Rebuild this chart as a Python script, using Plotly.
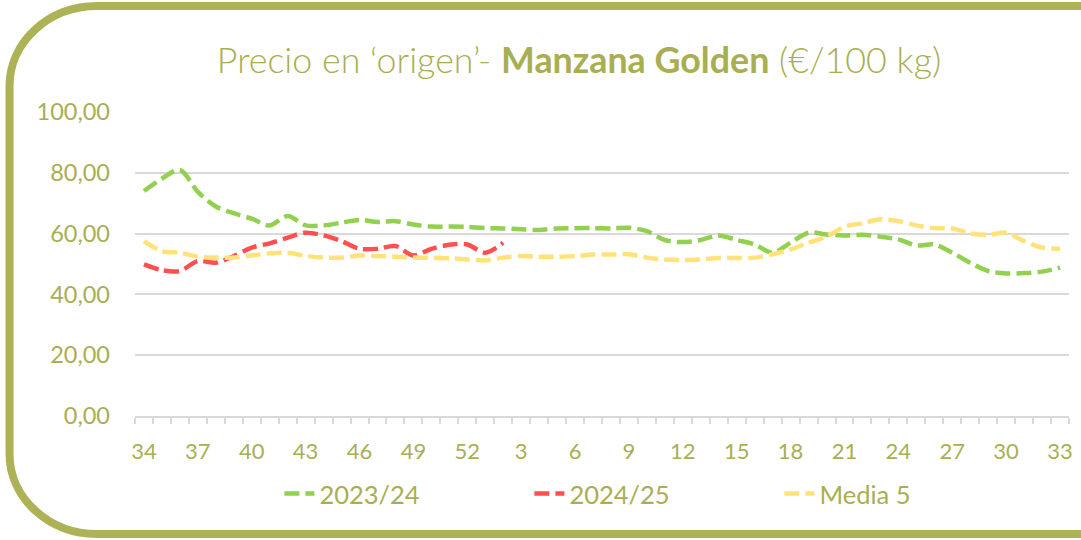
import plotly.graph_objects as go

# ---------------- data ----------------
weeks = [str(w) for w in list(range(34, 53)) + list(range(1, 34))]

s2023_24 = [74.0, 78.1, 80.9, 73.7, 68.9, 66.7, 64.9, 62.7, 65.8, 62.7,
            62.7, 63.6, 64.5, 63.8, 64.1, 63.0, 62.3, 62.3, 62.2, 61.8,
            61.7, 61.4, 61.2, 61.7, 61.8, 61.8, 61.7, 61.9, 60.8, 57.9,
            57.2, 57.9, 59.4, 57.9, 56.4, 53.7, 57.0, 60.3, 59.7, 59.4,
            59.6, 59.0, 58.1, 56.1, 56.4, 53.7, 50.4, 47.7, 46.9, 47.0,
            47.5, 48.8]

s2024_25 = [49.9, 48.0, 47.7, 51.0, 50.4, 52.6, 55.4, 56.8, 58.7, 60.3,
            59.4, 57.5, 55.0, 55.0, 55.9, 52.8, 55.0, 56.3, 56.4, 53.7,
            57.0]

media5 = [57.5, 54.2, 53.7, 52.4, 52.1, 52.1, 52.8, 53.5, 53.7, 52.7,
          52.1, 52.1, 52.8, 52.6, 52.4, 52.1, 52.0, 51.9, 51.5, 51.2,
          52.1, 52.6, 52.4, 52.4, 52.6, 53.1, 53.1, 53.2, 52.1, 51.5,
          51.3, 51.5, 52.0, 52.0, 52.1, 53.2, 54.8, 57.0, 59.0, 62.3,
          63.4, 64.7, 64.1, 62.7, 61.8, 61.7, 60.1, 59.6, 60.3, 57.5,
          55.4, 55.0]

series_names = ["2023/24", "2024/25", "Media 5"]
y_ticks = [0, 20, 40, 60, 80, 100]
title_text = "Precio en ‘origen’- <b>Manzana Golden</b> (€/100 kg)"

# ---------------- style ----------------
OLIVE = "#A9AE52"
BORDER = "#ADB256"
GRID = "#D9D9D9"
COLORS = ["#92D050", "#FF5050", "#FFE27A"]
FONT = "Lato"

W, H = 1081, 540
L, R, T, B = 135, 8, 112, 124
PW, PH = W - L - R, H - T - B

def px(x):
    return (x - L) / PW

def py(y):
    return (H - B - y) / PH

idx = list(range(len(weeks)))

fig = go.Figure()
for name, vals, col in zip(series_names, [s2023_24, s2024_25, media5], COLORS):
    fig.add_trace(go.Scatter(
        x=idx[:len(vals)], y=vals, name=name, mode="lines",
        line=dict(color=col, width=4.5, dash="15px,6px", shape="spline", smoothing=0.9),
        hoverinfo="x+y",
    ))

# rounded border (left side rounded, right side open)
k = 0.5523
lx, ty, by, rx_, ry_ = 9, 6, 534, 88, 80
rxp = 1100
pts = [
    f"M {px(rxp)},{py(ty)}",
    f"L {px(lx + rx_)},{py(ty)}",
    f"C {px(lx + rx_ * (1 - k))},{py(ty)} {px(lx)},{py(ty + ry_ * (1 - k))} {px(lx)},{py(ty + ry_)}",
    f"L {px(lx)},{py(by - ry_)}",
    f"C {px(lx)},{py(by - ry_ * (1 - k))} {px(lx + rx_ * (1 - k))},{py(by)} {px(lx + rx_)},{py(by)}",
    f"L {px(rxp)},{py(by)}",
]
fig.add_shape(type="path", xref="paper", yref="paper", path=" ".join(pts),
              line=dict(color=BORDER, width=8), layer="above")

fig.update_layout(
    width=W, height=H,
    margin=dict(l=L, r=R, t=T, b=B),
    paper_bgcolor="white", plot_bgcolor="white",
    separators=",.",
    font=dict(family=FONT, color=OLIVE),
    title=dict(text=title_text, x=579 / W, xref="container", xanchor="center",
               y=1 - 60 / H, yref="container", yanchor="middle",
               font=dict(family=FONT, size=35.8, color=OLIVE, weight=300)),
    showlegend=True,
    legend=dict(orientation="h", x=px(280), y=py(494), xref="paper", yref="paper",
                xanchor="left", yanchor="middle",
                font=dict(family=FONT, size=25.5, color=OLIVE),
                entrywidth=205, entrywidthmode="pixels", itemwidth=30,
                bgcolor="rgba(0,0,0,0)"),
    xaxis=dict(range=[-0.5, len(weeks) - 0.5], tickmode="array",
               tickvals=idx[::3], ticktext=weeks[::3],
               showgrid=False, zeroline=False,
               showline=True, linecolor=GRID, linewidth=1.5,
               ticks="", ticklabelstandoff=15,
               tickfont=dict(family=FONT, size=22, color=OLIVE),
               minor=dict(tickmode="array", tickvals=[i - 0.5 for i in range(len(weeks) + 1)],
                          ticks="outside", ticklen=6, tickcolor=GRID, tickwidth=1.5,
                          showgrid=False)),
    yaxis=dict(range=[0, 100], tickmode="array", tickvals=y_ticks,
               tickformat=".2f", showgrid=True, gridcolor=GRID, gridwidth=1.5,
               zeroline=False, showline=False, ticks="", ticklabelstandoff=24,
               tickfont=dict(family=FONT, size=23.5, color=OLIVE)),
)

fig.write_html("out.html", config={"displayModeBar": False},
               post_script="document.body.style.margin='0';document.body.style.overflow='hidden';")
